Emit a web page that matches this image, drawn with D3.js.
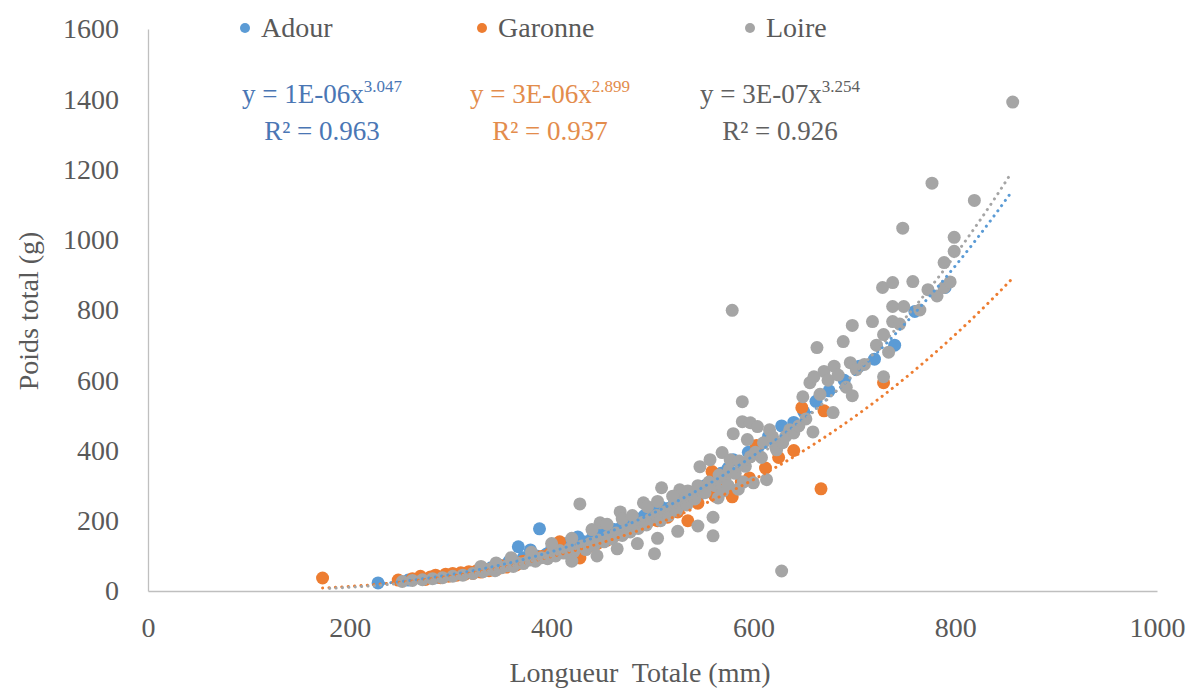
<!DOCTYPE html>
<html>
<head>
<meta charset="utf-8">
<script src="https://cdn.jsdelivr.net/npm/d3@7"></script>
<style>
  html, body { margin: 0; padding: 0; background: #ffffff; }
  svg { display: block; }
</style>
</head>
<body>
<svg id="chart" width="1189" height="691"></svg>
<script>
// ---------------- data ----------------
const seriesNames = ["Adour", "Garonne", "Loire"];
const seriesColors = ["#5b9bd5", "#ed7d31", "#a5a5a5"];
const equationColors = ["#4a76b4", "#e38c4c", "#606060"];

const xTicks = [0, 200, 400, 600, 800, 1000];
const yTicks = [0, 200, 400, 600, 800, 1000, 1200, 1400, 1600];

const adourX = [228,258,285,300,315,330,340,350,358,367,372,379,385,388,395,400,408,415,420,426,432,440,448,455,462,470,478,485,492,500,508,515,522,530,538,545,552,560,568,575,580,588,595,605,615,628,640,650,662,675,690,705,720,740,760,790];
const adourY = [23,31,38,45,50,62,66,72,85,126,95,117,100,177,105,120,112,135,125,154,140,150,165,160,175,185,190,205,215,225,240,235,255,265,280,270,300,310,335,350,374,360,395,410,440,470,480,510,540,570,600,640,660,700,796,864];

const garonneX = [173,248,262,270,275,280,285,290,295,298,302,306,310,314,318,322,326,330,334,338,342,346,350,355,360,365,372,380,390,398,408,412,420,428,436,445,455,465,475,485,495,505,515,525,535,545,559,562,572,579,588,596,603,612,625,640,648,667,670,729];
const garonneY = [37,31,35,42,33,40,45,38,48,42,50,45,52,48,55,50,58,54,62,58,66,62,72,68,78,74,85,90,98,105,140,115,110,94,125,135,145,160,170,180,195,200,210,225,200,250,340,270,290,268,310,322,414,350,380,400,522,291,513,593];

const loireX = [252,262,272,282,292,302,312,322,332,338,344,350,356,362,366,372,378,384,390,396,400,404,408,412,418,422,428,430,434,438,442,446,448,452,456,460,464,468,470,474,478,482,486,490,491,494,498,502,504,508,509,512,516,520,524,527,530,534,538,542,547,548,552,556,557,560,562,565,566,569,570,572,575,576,577,579,580,582,585,586,589,589,590,592,594,597,597,600,602,604,608,610,613,616,619,622,623,628,629,632,636,640,645,649,652,656,659,660,663,666,670,674,679,680,684,689,692,696,698,698,702,710,718,722,728,729,729,734,738,738,738,745,748,749,758,765,773,777,782,789,789,795,799,799,819,857,
  400,420,440,455,470,480,495,505,520,535,545,420,445,465,485,505,525,545,560,380,360,345,330];
const loireY = [27,30,32,35,38,42,45,50,55,62,58,66,72,70,80,78,88,85,95,92,105,100,115,108,120,112,248,128,118,135,130,145,194,140,155,148,165,225,158,175,168,185,178,195,251,188,205,106,215,200,294,225,215,240,230,288,255,245,270,262,354,290,280,310,374,157,300,265,330,394,285,320,300,345,374,799,448,335,290,370,539,482,310,355,431,479,382,308,395,468,380,422,317,459,439,410,402,57,422,440,459,450,470,553,490,593,453,610,693,560,625,600,508,640,615,710,580,650,556,756,630,645,767,700,864,610,730,680,878,810,767,760,1033,810,881,800,858,1161,840,935,864,880,1007,967,1112,1392,
  135,150,175,190,205,215,240,255,270,285,300,85,100,120,135,150,170,185,210,110,95,80,70];

// power trend lines y = a * x^b (coefficients)
const trendCoef = [1.32e-6, 2.8e-6, 3.42e-7];
const trendExp  = [3.047, 2.899, 3.254];
const trendStart = [228, 173, 180];
const trendEnd   = [857, 857, 857];

const eqLine1 = ["y = 1E-06x", "y = 3E-06x", "y = 3E-07x"];
const eqSup   = ["3.047", "2.899", "3.254"];
const eqLine2 = ["R² = 0.963", "R² = 0.937", "R² = 0.926"];

const xTitle = "Longueur\u00a0 Totale (mm)";
const yTitle = "Poids total (g)";

// ---------------- layout ----------------
const svg = d3.select("#chart");
const x = d3.scaleLinear().domain([0, 1000]).range([148, 1157]);
const y = d3.scaleLinear().domain([0, 1600]).range([591, 29]);
const textColor = "#595959";
const axisColor = "#bfbfbf";
const FONT = "'Times New Roman', Tinos, 'Liberation Serif', 'Noto Serif', 'DejaVu Serif', Times, serif";

// axes
const gx = svg.append("g").attr("transform", `translate(0,${y(0)})`)
  .call(d3.axisBottom(x).tickValues(xTicks).tickSize(0).tickSizeOuter(0).tickPadding(26).tickFormat(d3.format("d")));
const gy = svg.append("g").attr("transform", `translate(${x(0)},0)`)
  .call(d3.axisLeft(y).tickValues(yTicks).tickSize(0).tickSizeOuter(0).tickPadding(29).tickFormat(d3.format("d")));
[gx, gy].forEach(g => {
  g.attr("font-family", FONT).attr("font-size", 28);
  g.select(".domain").attr("stroke", axisColor).attr("stroke-width", 1.3);
  g.selectAll("text").attr("fill", textColor);
});

// axis titles
svg.append("text").attr("x", 640).attr("y", 682).attr("text-anchor", "middle")
  .attr("font-family", FONT).attr("font-size", 28).attr("fill", textColor).text(xTitle);
svg.append("text").attr("transform", "translate(38,311) rotate(-90)").attr("text-anchor", "middle")
  .attr("font-family", FONT).attr("font-size", 28).attr("fill", textColor).text(yTitle);

// points
const seriesX = [adourX, garonneX, loireX];
const seriesY = [adourY, garonneY, loireY];
seriesNames.forEach((name, i) => {
  const pts = seriesX[i].map((v, k) => [v, seriesY[i][k]]);
  svg.append("g").selectAll("circle").data(pts).join("circle")
    .attr("cx", d => x(d[0])).attr("cy", d => y(d[1])).attr("r", 6.5)
    .attr("fill", seriesColors[i]);
});

// trend lines (dotted)
const line = d3.line().x(d => x(d[0])).y(d => y(d[1]));
seriesNames.forEach((name, i) => {
  const pts = d3.range(trendStart[i], trendEnd[i] + 0.5, 2).map(v => [v, trendCoef[i] * Math.pow(v, trendExp[i])]);
  svg.append("path").datum(pts).attr("d", line)
    .attr("fill", "none").attr("stroke", seriesColors[i]).attr("stroke-width", 3)
    .attr("stroke-linecap", "round").attr("stroke-dasharray", "0.1 6.3");
});

// legend
const legendMarkerX = [245, 482, 750];
seriesNames.forEach((name, i) => {
  svg.append("circle").attr("cx", legendMarkerX[i]).attr("cy", 28).attr("r", 5).attr("fill", seriesColors[i]);
  svg.append("text").attr("x", legendMarkerX[i] + 16).attr("y", 37).attr("fill", textColor)
    .attr("font-family", FONT).attr("font-size", 28).text(name);
});

// equations
const eqCenter = [322, 550, 780];
seriesNames.forEach((name, i) => {
  const t = svg.append("text").attr("x", eqCenter[i]).attr("y", 103).attr("text-anchor", "middle")
    .attr("font-family", FONT).attr("font-size", 27).attr("fill", equationColors[i]);
  t.append("tspan").text(eqLine1[i]);
  t.append("tspan").attr("dy", -11).attr("font-size", 17).text(eqSup[i]);
  svg.append("text").attr("x", eqCenter[i]).attr("y", 140).attr("text-anchor", "middle")
    .attr("font-family", FONT).attr("font-size", 27).attr("fill", equationColors[i]).text(eqLine2[i]);
});
</script>
</body>
</html>
